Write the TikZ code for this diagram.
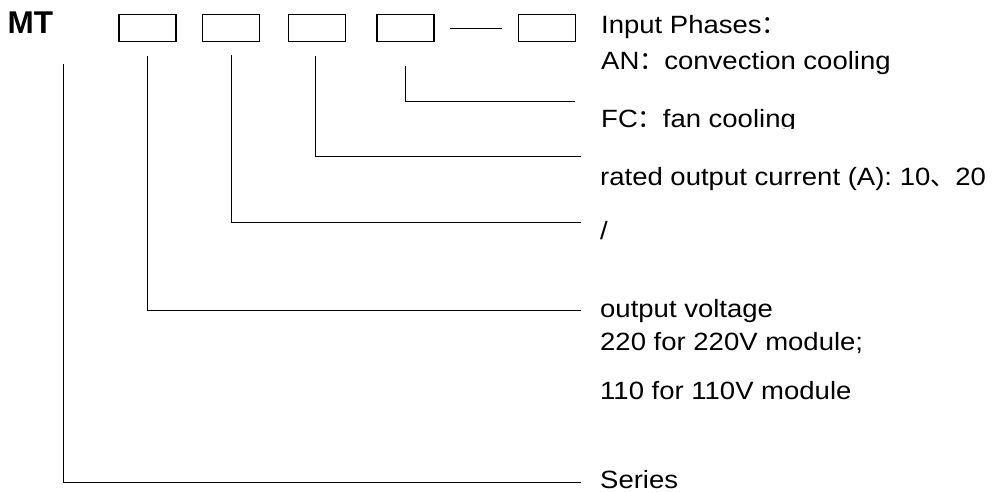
\documentclass[tikz,border=0pt]{standalone}
\usepackage{fontspec}
\setmainfont{Liberation Sans}[FakeStretch=1.1]
\newfontfamily\mtfont{Liberation Sans}
\newfontfamily\cjk{Noto Sans CJK SC}
\begin{document}
\begin{tikzpicture}[x=1pt,y=-1pt,
  codebox/.style={draw,line width=1.2pt,minimum width=57pt,minimum height=27pt,inner sep=0pt},
  lbl/.style={anchor=base west,inner sep=0pt,font=\fontsize{25}{30}\selectfont},
  conn/.style={line width=1.1pt}]
\useasboundingbox (0,0) rectangle (998,492);
\node[anchor=base west,inner sep=0pt,font=\mtfont\bfseries\fontsize{31.5}{36}\selectfont] (mt) at (7.5,33.3) {MT};
\node[codebox] (b1) at (147.4,28.4) {};
\node[codebox] (b2) at (231.2,28.4) {};
\node[codebox] (b3) at (317.0,28.4) {};
\node[codebox] (b4) at (405.4,28.4) {};
\node[codebox] (b5) at (547.0,28.4) {};
\draw[conn] ([xshift=15.6pt]b4.east) -- ([xshift=-16pt]b5.west);
% labels
\node[lbl] (ip) at (601,34) {Input Phases{\cjk ：}};
\node[lbl] (an) at (601,70) {AN{\cjk ：}convection cooling};
\begin{scope}
\clip (590,95) rectangle (830,128.6);
\node[lbl] (fc) at (601,128) {FC{\cjk ：}fan cooling};
\end{scope}
\node[lbl] (rc) at (600,185) {rated output current (A): 10{\cjk 、}20};
\node[lbl] (sl) at (600,239) {/};
\node[lbl] (ov) at (600,317) {output voltage};
\node[lbl] (v2) at (600,350) {220 for 220V module;};
\node[lbl] (v1) at (600,399) {110 for 110V module};
\node[lbl] (se) at (600,488) {Series};
% connector ends
\coordinate (e4) at (575,101.7);
\coordinate (e3) at (581,156.7);
\coordinate (e2) at (581,222.9);
\coordinate (e1) at (581,310.5);
\coordinate (e0) at (581,482.3);
\coordinate (s0) at (63.3,64.3);
\draw[conn] ([yshift=-23.3pt]b4.south) |- (e4);
\draw[conn] ([xshift=-1.7pt,yshift=-14pt]b3.south) |- (e3);
\draw[conn] ([xshift=0.5pt,yshift=-12.6pt]b2.south) |- (e2);
\draw[conn] ([yshift=-14pt]b1.south) |- (e1);
\draw[conn] (s0) |- (e0);
\end{tikzpicture}
\end{document}
